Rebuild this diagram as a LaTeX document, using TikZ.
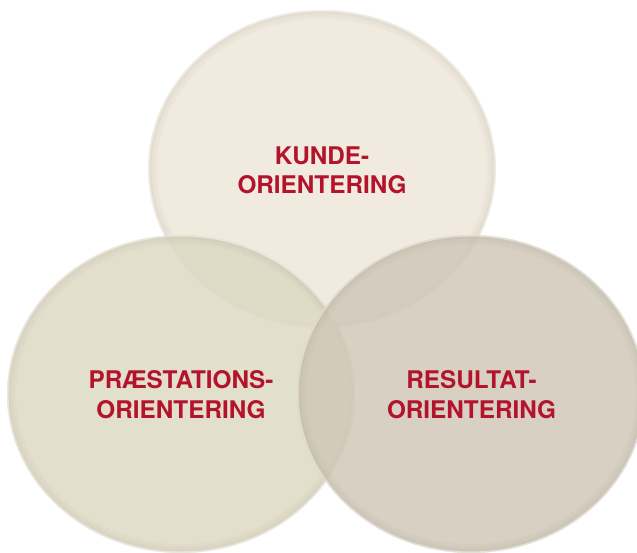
\documentclass[tikz,border=0pt]{standalone}
\usepackage{fontspec}
\setmainfont{TeX Gyre Heros}
\definecolor{topfill}{RGB}{237,231,216}
\definecolor{leftfill}{RGB}{222,217,196}
\definecolor{rightfill}{RGB}{208,200,184}
\definecolor{labelred}{RGB}{179,19,43}
\definecolor{rimshade}{RGB}{120,110,85}
\tikzset{
  disc/.style={fill opacity=0.85, draw=none},
  label/.style={text=labelred, font=\bfseries\fontsize{24.3}{29.5}\selectfont, align=center, inner sep=0pt},
}
\newcommand{\bevel}[3]{%
  \begin{scope}
    \clip (#1) ellipse [x radius=#2, y radius=#3];
    \draw[rimshade, draw opacity=0.03, line width=18pt] (#1) ellipse [x radius=#2, y radius=#3];
    \draw[rimshade, draw opacity=0.03, line width=12pt] (#1) ellipse [x radius=#2, y radius=#3];
    \draw[rimshade, draw opacity=0.03, line width=7pt] (#1) ellipse [x radius=#2, y radius=#3];
    \draw[white, draw opacity=0.45, line width=3pt] (#1) ellipse [x radius=#2, y radius=#3];
  \end{scope}}
\begin{document}
\begin{tikzpicture}[x=1pt, y=-1pt]
  \useasboundingbox (0,0) rectangle (637,552);
  \clip (0,0) rectangle (637,552);
  \coordinate (ctop) at (322,169);
  \coordinate (cleft) at (181,394);
  \coordinate (cright) at (471,394);
  % top disc
  \fill[topfill, disc] (ctop) ellipse [x radius=174, y radius=159];
  \bevel{ctop}{174}{159}
  % left disc
  \fill[leftfill, disc] (cleft) ellipse [x radius=174, y radius=159];
  \bevel{cleft}{174}{159}
  % right disc
  \fill[rightfill, disc] (cright) ellipse [x radius=174, y radius=159];
  \bevel{cright}{174}{159}
  % labels
  \node[label] (kunde) at (322,170.5) {KUNDE-\\ORIENTERING};
  \node[label] (praest) at (181,394.5) {PRÆSTATIONS-\\ORIENTERING};
  \node[label] (result) at (471.5,394.5) {RESULTAT-\\ORIENTERING};
\end{tikzpicture}
\end{document}
